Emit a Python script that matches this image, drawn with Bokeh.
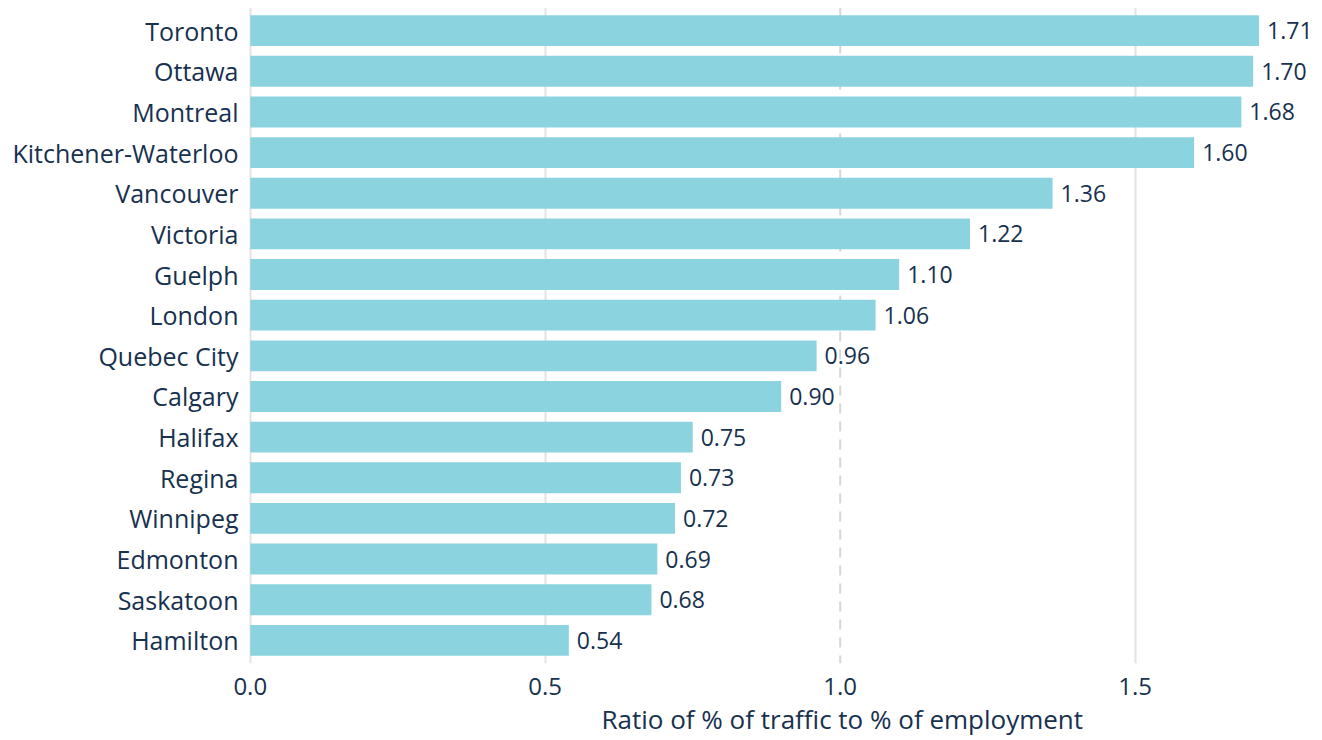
from bokeh.plotting import figure
from bokeh.models import FactorRange, Range1d, Span, FixedTicker, Title, ColumnDataSource
from bokeh.core.properties import value
from bokeh.embed import file_html
from bokeh.resources import INLINE

cities = ["Toronto", "Ottawa", "Montreal", "Kitchener-Waterloo", "Vancouver", "Victoria",
          "Guelph", "London", "Quebec City", "Calgary", "Halifax", "Regina", "Winnipeg",
          "Edmonton", "Saskatoon", "Hamilton"]
ratios = [1.71, 1.70, 1.68, 1.60, 1.36, 1.22, 1.10, 1.06, 0.96, 0.90, 0.75, 0.73, 0.72,
          0.69, 0.68, 0.54]
x_ticks = [0.0, 0.5, 1.0, 1.5]
x_tick_labels = ["0.0", "0.5", "1.0", "1.5"]
reference_ratio = 1.0
axis_title = "Ratio of % of traffic to % of employment"

FONT = "Open Sans"
TEXT = "#17314f"
BAR = "#8bd4df"
GRID = "#e3e3e3"

src = ColumnDataSource(dict(city=cities, ratio=ratios,
                            label=["%.2f" % r for r in ratios]))

p = figure(y_range=FactorRange(factors=list(reversed(cities)), range_padding=0.07,
                               range_padding_units="absolute"),
           x_range=Range1d(-0.003, 1.804),
           frame_width=1066, frame_height=656,
           min_border_left=248, min_border_top=7, min_border_right=0, min_border_bottom=0,
           output_backend="svg", toolbar_location=None)

p.outline_line_color = None
p.background_fill_color = "white"

p.hbar(y="city", right="ratio", left=0, height=0.76, source=src,
       fill_color=BAR, line_color=None)

p.text(x="ratio", y="city", text="label", source=src, x_offset=8,
       text_font=value(FONT), text_font_size="23px", text_color=TEXT,
       text_align="left", text_baseline="middle")

span = Span(location=reference_ratio, dimension="height", line_color="#d6d6d6",
            line_width=2, line_dash="10 8", level="underlay")
p.add_layout(span)

p.ygrid.grid_line_color = None
p.xgrid.ticker = FixedTicker(ticks=[t for t in x_ticks if t != reference_ratio])
p.xgrid.grid_line_color = GRID
p.xgrid.grid_line_width = 2

p.xaxis.ticker = FixedTicker(ticks=x_ticks)
p.xaxis.major_label_overrides = {t: l for t, l in zip(x_ticks, x_tick_labels)}
p.xaxis.axis_line_color = None
p.xaxis.major_tick_line_color = None
p.xaxis.minor_tick_line_color = None
p.xaxis.major_label_text_font = FONT
p.xaxis.major_label_text_font_size = "24px"
p.xaxis.major_label_text_color = TEXT
p.xaxis.major_label_standoff = 8

p.yaxis.axis_line_color = None
p.yaxis.major_tick_line_color = None
p.yaxis.minor_tick_line_color = None
p.yaxis.major_label_text_font = FONT
p.yaxis.major_label_text_font_size = "25px"
p.yaxis.major_label_text_color = TEXT
p.yaxis.major_label_standoff = 4

t = Title(text=axis_title, align="left", offset=353, text_font=FONT,
          text_font_size="26px", text_font_style="normal", text_color=TEXT, standoff=2)
p.add_layout(t, "below")

open("out.html", "w").write(file_html(p, INLINE))
